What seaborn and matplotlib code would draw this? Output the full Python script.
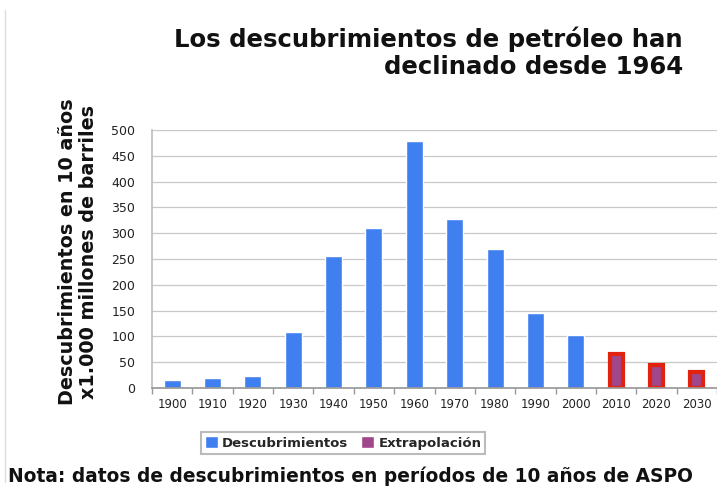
import numpy as np
import pandas as pd
import matplotlib
matplotlib.use("Agg")
import matplotlib.pyplot as plt
from matplotlib.patches import Patch
import seaborn as sns

years = ["1900", "1910", "1920", "1930", "1940", "1950", "1960", "1970",
         "1980", "1990", "2000", "2010", "2020", "2030"]
descubrimientos = [16, 20, 23, 109, 255, 310, 479, 327, 269, 145, 102, None, None, None]
extrapolacion = [None] * 11 + [66, 44, 31]

title = "Los descubrimientos de petróleo han\ndeclinado desde 1964"
ylabel = "Descubrimientos en 10 años\nx1.000 millones de barriles"
note = "Nota: datos de descubrimientos en períodos de 10 años de ASPO"
yticks = list(range(0, 501, 50))

sns.set_theme(style="white")
plt.rcParams['font.family'] = ['DejaVu Sans']

fig = plt.figure(figsize=(7.17, 4.92), dpi=100)
ax = fig.add_axes([152/717, 1 - 388/492, (717 - 152)/717, (388 - 130)/492])

df = pd.DataFrame({"year": years, "desc": descubrimientos, "extra": extrapolacion})

sns.barplot(data=df, x="year", y="desc", order=years, color="#3f7fef",
            width=0.42, saturation=1, ax=ax, zorder=3)
sns.barplot(data=df, x="year", y="extra", order=years, color="#a0468a",
            width=0.32, saturation=1, ax=ax, zorder=3)
# red frame on extrapolation bars
for p in ax.containers[1]:
    p.set_edgecolor("#e0220f")
    p.set_linewidth(3.0)
    p.set_joinstyle("miter")

ax.set_ylim(0, 500)
ax.set_xlim(-0.5, len(years) - 0.5)
ax.set_yticks(yticks)
ax.yaxis.grid(True, color="#c8c8c8", linewidth=0.9, zorder=0)
ax.set_axisbelow(True)
for s in ["top", "right"]:
    ax.spines[s].set_visible(False)
ax.spines["left"].set_color("#bfbfbf")
ax.spines["bottom"].set_color("#999999")
ax.spines["bottom"].set_zorder(5)
ax.set_xticks(np.arange(-0.5, len(years), 1.0), minor=True)
ax.tick_params(axis="x", which="minor", length=4, color="#999999", bottom=True)
ax.tick_params(axis="y", labelsize=9, colors="#222222", length=0, pad=12)
ax.tick_params(axis="x", which="major", labelsize=8.5, colors="#222222", length=0, pad=7)
ax.set_xlabel("")
ax.set_ylabel("")

fig.text(683/717, 1 - 27/492, title, ha="right", va="top", fontsize=17.6,
         fontweight="bold", color="#111111", linespacing=1.12)
fig.text(78/717, 1 - 252/492, ylabel, ha="center", va="center", rotation=90,
         fontsize=13.8, fontweight="bold", color="#111111", linespacing=1.15)
fig.text(8/717, 1 - 476/492, note, ha="left", va="center", fontsize=13.4,
         fontweight="bold", color="#111111")

handles = [Patch(facecolor="#3f7fef", label="Descubrimientos"),
           Patch(facecolor="#a0468a", label="Extrapolación")]
leg = fig.legend(handles=handles, loc="center", bbox_to_anchor=(343/717, 1 - 443/492),
                 ncol=2, frameon=True, fancybox=False, handlelength=1.0,
                 handleheight=1.0, handletextpad=0.3, columnspacing=1.0,
                 prop={"weight": "bold", "size": 9.5}, borderpad=0.3)
leg.get_frame().set_edgecolor("#aaaaaa")
leg.get_frame().set_linewidth(1.5)

fig.add_artist(plt.Line2D([5/717, 5/717], [0.02, 0.98], color="#dddddd", lw=1))

fig.savefig("out.png", dpi=100, facecolor="white")
